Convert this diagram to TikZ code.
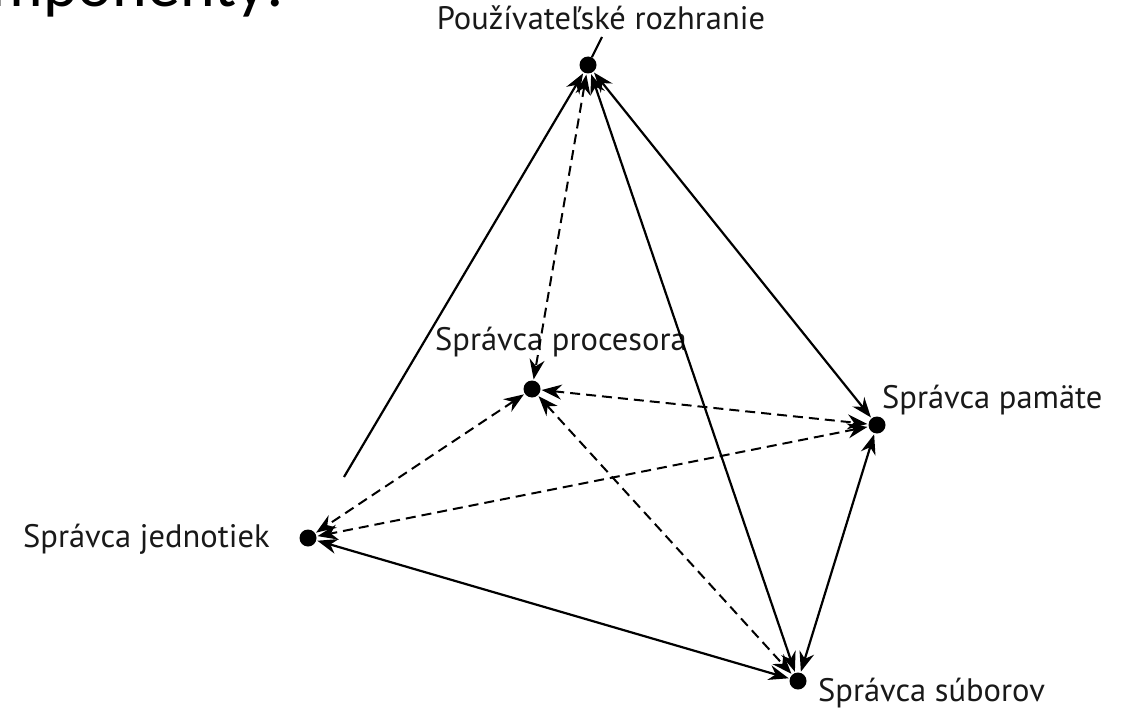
\documentclass[tikz,border=0pt]{standalone}
\usepackage{fontspec}
\setmainfont{PT Sans}
\newfontfamily\titlefont{Carlito}
\usetikzlibrary{arrows.meta}
\tikzset{
  dot/.style={circle,fill=black,inner sep=0pt,minimum size=17pt},
  lbl/.style={font=\fontsize{32.5}{36}\selectfont,inner sep=0pt,text=black!90},
  tip/.tip={Stealth[length=20pt,width=15pt,inset=6.5pt]},
  solidarc/.style={line width=2.2pt,tip-tip,shorten <=1pt,shorten >=1pt},
  solidone/.style={line width=2.2pt,-tip,shorten >=1pt},
  dasharc/.style={line width=2pt,dash pattern=on 10pt off 6pt,tip-tip,shorten <=1pt,shorten >=1pt},
}
\begin{document}
\begin{tikzpicture}[x=1pt,y=-1pt]
\useasboundingbox (0,0) rectangle (1130,709);
\clip (0,0) rectangle (1130,709);
% title (cut off at top)
\node[anchor=base east,inner sep=0pt,font=\titlefont\fontsize{66}{70}\selectfont] (title) at (284,7) {Komponenty:};
% dots
\node[dot] (ui) at (588,65) {};
\node[dot] (cpu) at (532,389) {};
\node[dot] (mem) at (877,425) {};
\node[dot] (dev) at (308,538) {};
\node[dot] (fs) at (798,681) {};
% labels
\node[lbl,anchor=base] (uil) at (601,30) {Používateľské rozhranie};
\node[lbl,anchor=base west] (cpul) at (435,350) {Správca procesora};
\node[lbl,anchor=base west] (meml) at (882,408) {Správca pamäte};
\node[lbl,anchor=base west] (devl) at (23,547) {Správca jednotiek};
\node[lbl,anchor=base west] (fsl) at (818,701) {Správca súborov};
% leader
\coordinate (lead) at (602,37);
\draw[line width=2.2pt] (lead) -- (ui);
% connectors
\coordinate (devstart) at (344,477);
\draw[solidone] (devstart) -- (ui);
\draw[dasharc] (ui) -- (cpu);
\draw[solidarc] (ui) -- (fs);
\draw[solidarc] (ui) -- (mem);
\draw[dasharc] (cpu) -- (mem);
\draw[dasharc] (cpu) -- (dev);
\draw[dasharc] (cpu) -- (fs);
\draw[dasharc] (mem) -- (dev);
\draw[solidarc] (dev) -- (fs);
\draw[solidarc] (mem) -- (fs);
\end{tikzpicture}
\end{document}
